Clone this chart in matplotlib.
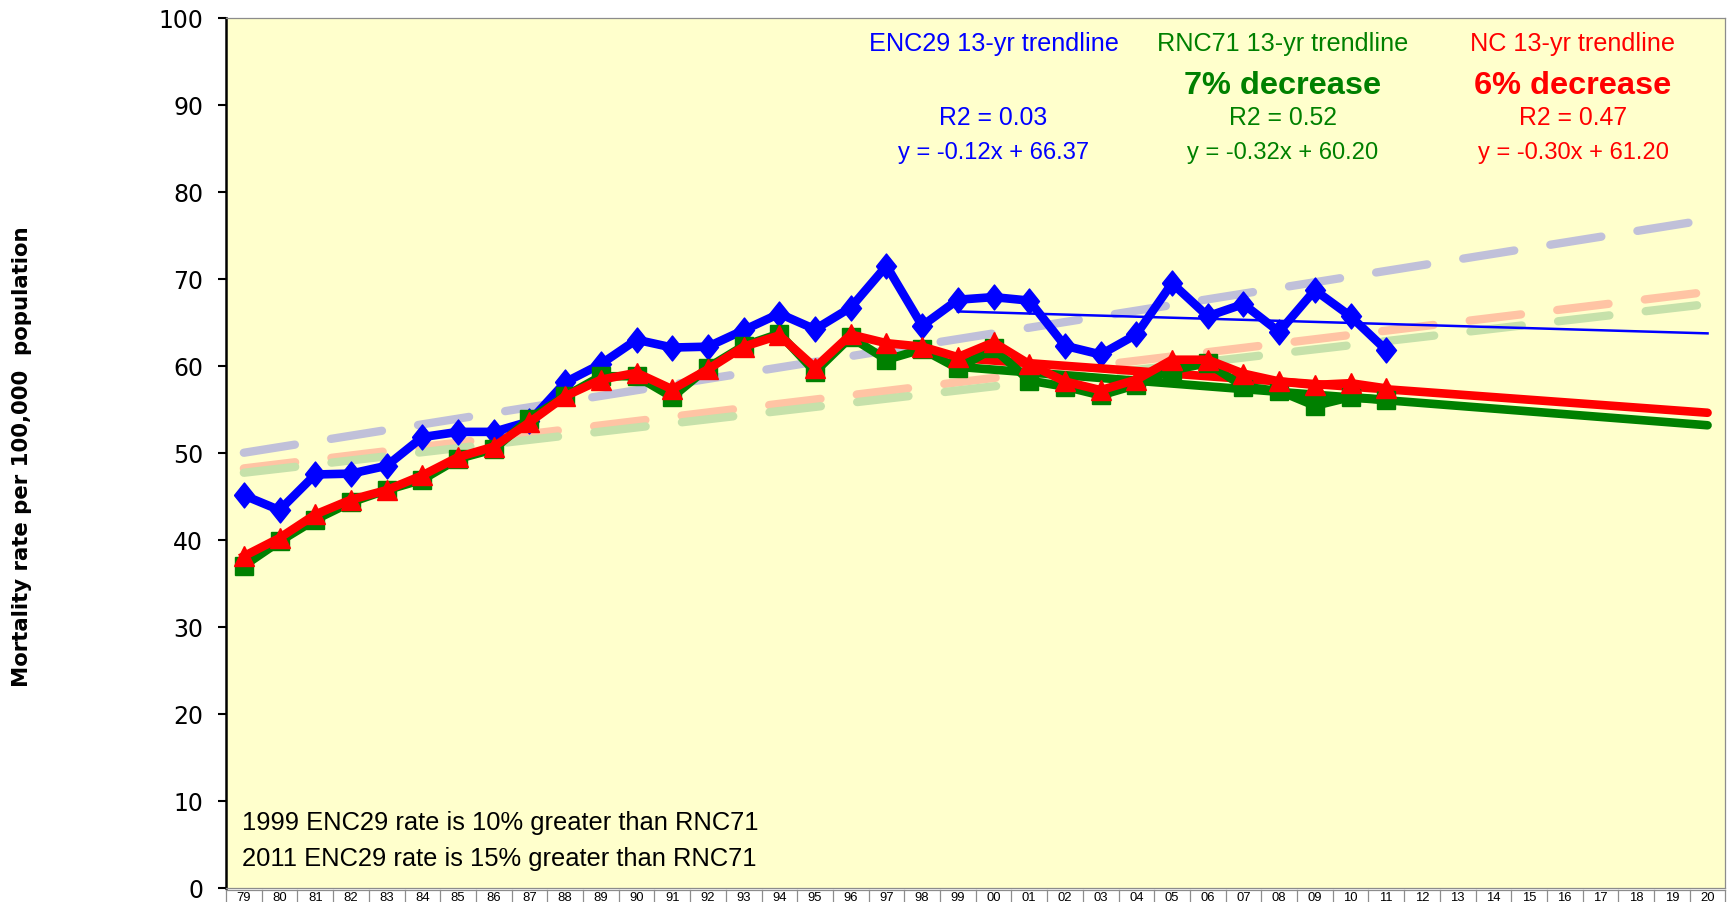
import matplotlib
matplotlib.use('Agg')
import matplotlib.pyplot as plt
from matplotlib.transforms import blended_transform_factory

# ---------------- data ----------------
years = ['79', '80', '81', '82', '83', '84', '85', '86', '87', '88', '89', '90',
         '91', '92', '93', '94', '95', '96', '97', '98', '99', '00', '01', '02',
         '03', '04', '05', '06', '07', '08', '09', '10', '11', '12', '13', '14',
         '15', '16', '17', '18', '19', '20']

# observed rates 1979-2011
enc29 = [45.1, 43.4, 47.5, 47.6, 48.5, 51.8, 52.4, 52.4, 53.6, 58.1, 60.2, 63.0,
         62.1, 62.2, 64.1, 66.0, 64.2, 66.7, 71.5, 64.6, 67.6, 67.9, 67.5, 62.3,
         61.3, 63.6, 69.5, 65.7, 67.1, 63.9, 68.7, 65.7, 61.8]
rnc71 = [37.0, 39.8, 42.3, 44.3, 45.7, 46.9, 49.3, 50.4, 53.9, 56.5, 58.8, 58.8,
         56.4, 59.8, 62.3, 63.7, 59.3, 63.3, 60.7, 61.9, 59.7, 62.0, 58.3, 57.6,
         56.6, 57.8, 59.5, 60.3, 57.6, 57.1, 55.4, 56.4, 56.1]
nc = [38.1, 40.2, 42.9, 44.6, 45.7, 47.4, 49.5, 50.7, 53.5, 56.5, 58.4, 59.2,
      57.3, 59.6, 62.2, 63.5, 59.8, 63.6, 62.6, 62.2, 61.0, 62.7, 60.2, 58.2,
      57.2, 58.4, 60.7, 60.7, 59.1, 58.2, 57.8, 58.0, 57.4]

# 13-yr trendlines (1999 -> 2020 end points)
trend13_years = ['99', '20']
enc29_trend13 = [66.25, 63.73]
rnc71_trend13 = [59.88, 53.16]
nc_trend13 = [60.90, 54.60]

# long-term trendlines (1979 -> 2020 end points)
trendlong_years = ['79', '20']
enc29_trendlong = [50.0, 76.8]
rnc71_trendlong = [47.7, 67.1]
nc_trendlong = [48.2, 68.5]

# ---------------- figure ----------------
W, H = 1727, 903
plt.rcParams['lines.scale_dashes'] = False
fig = plt.figure(figsize=(W / 100, H / 100), dpi=100)
fig.patch.set_facecolor('white')

ax_left, ax_right, ax_top, ax_bot = 226, 1725.4, 19, 888.5
ax = fig.add_axes([ax_left / W, 1 - ax_bot / H, (ax_right - ax_left) / W, (ax_bot - ax_top) / H])
ax.set_facecolor('#FFFFCC')
ax.set_xlim(-0.5, len(years) - 0.5)
ax.set_ylim(0, 100)

pos = {y: i for i, y in enumerate(years)}
xs_obs = list(range(len(enc29)))

BLUE, GREEN, RED = '#0000FF', '#008000', '#FF0000'

# long dashed trendlines
dash = (37.2, 26.3)
for vals, col in [(enc29_trendlong, '#C0C0D9'), (nc_trendlong, '#FFC4A4'),
                  (rnc71_trendlong, '#C6E1AA')]:
    ax.plot([pos[y] for y in trendlong_years], vals, color=col, lw=6,
            dashes=dash, dash_capstyle='round', zorder=2)

# 13-yr trendlines
ax.plot([pos[y] for y in trend13_years], enc29_trend13, color=BLUE, lw=1.8, zorder=3)

LW = 6.2
diamond = [(-0.8, 0), (0, 1), (0.8, 0), (0, -1), (-0.8, 0)]
ax.plot(xs_obs, enc29, color=BLUE, lw=LW, marker=diamond, ms=18,
        solid_joinstyle='round', zorder=4)
ax.plot([pos[y] for y in trend13_years], rnc71_trend13, color=GREEN, lw=LW,
        solid_capstyle='round', zorder=4.5)
ax.plot([pos[y] for y in trend13_years], nc_trend13, color=RED, lw=LW,
        solid_capstyle='round', zorder=4.6)
ax.plot(xs_obs, rnc71, color=GREEN, lw=LW, marker='s', ms=13.5,
        solid_joinstyle='round', zorder=5)
ax.plot(xs_obs, nc, color=RED, lw=LW, marker='^', ms=15,
        solid_joinstyle='round', zorder=6)

# axes styling
for s in ['top', 'right', 'bottom']:
    ax.spines[s].set_color('#8C8C8C')
    ax.spines[s].set_linewidth(0.9)
ax.spines['left'].set_color('black')
ax.spines['left'].set_linewidth(1.8)
ax.set_xticks([])
ax.set_yticks(range(0, 101, 10))
ax.tick_params(axis='y', direction='out', length=5.5, width=1.5, pad=11,
               labelsize=17, labelcolor='black')
for lab in ax.get_yticklabels():
    lab.set_family('DejaVu Sans')

fig.text(22 / W, 1 - 457 / H, 'Mortality rate per 100,000  population',
         rotation=90, ha='center', va='center', fontsize=15.3,
         fontweight='bold', family='DejaVu Sans', color='black')

# category cells under the axis
bt = blended_transform_factory(ax.transData, fig.transFigure)
cell_top = 1 - 890.5 / H
ax.plot([-0.5, len(years) - 0.5], [cell_top, cell_top], color='#8C8C8C', lw=0.9,
        transform=bt, clip_on=False)
for i in range(len(years) + 1):
    ax.plot([i - 0.5, i - 0.5], [cell_top, -0.05], color='#8C8C8C', lw=0.9,
            transform=bt, clip_on=False)
for i, y in enumerate(years):
    ax.text(i, 1 - 892.5 / H, y, transform=bt, ha='center', va='top',
            fontsize=9.4, family='Liberation Sans', color='black', clip_on=False)

# annotations
def ftext(px, py, s, **kw):
    fig.text(px / W, 1 - py / H, s, ha='center', va='center',
             family='Liberation Sans', **kw)

cols = [(993.5, BLUE, 'ENC29 13-yr trendline', None, 'R2 = 0.03', 'y = -0.12x + 66.37'),
        (1283, GREEN, 'RNC71 13-yr trendline', '7% decrease', 'R2 = 0.52', 'y = -0.32x + 60.20'),
        (1573, RED, 'NC 13-yr trendline', '6% decrease', 'R2 = 0.47', 'y = -0.30x + 61.20')]
for cx, c, t1, t2, t3, t4 in cols:
    ftext(cx, 44, t1, color=c, fontsize=18.2)
    if t2:
        ftext(cx, 85.5, t2, color=c, fontsize=23.4, fontweight='bold')
    ftext(cx, 118, t3, color=c, fontsize=17.8)
    ftext(cx, 153, t4, color=c, fontsize=17.1)

fig.text(242 / W, 1 - 823.5 / H, '1999 ENC29 rate is 10% greater than RNC71',
         ha='left', va='center', fontsize=18.4, family='Liberation Sans', color='black')
fig.text(242 / W, 1 - 859.5 / H, '2011 ENC29 rate is 15% greater than RNC71',
         ha='left', va='center', fontsize=18.4, family='Liberation Sans', color='black')

fig.savefig('out.png', dpi=100, facecolor='white')
